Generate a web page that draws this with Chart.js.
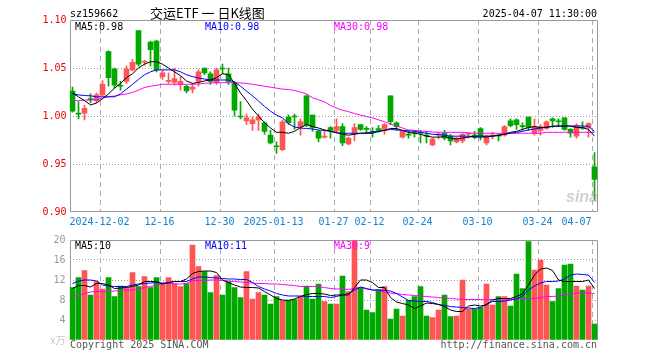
<!DOCTYPE html>
<html>
<head>
<meta charset="utf-8">
<script src="https://cdn.jsdelivr.net/npm/chart.js@4.4.1/dist/chart.umd.min.js"></script>
<style>
  html, body { margin: 0; padding: 0; background: #fff; }
  #wrap { position: relative; width: 660px; height: 360px; }
  #wrap canvas { position: absolute; left: 0; }
  #kline { top: 0; }
  #vol { top: 230px; }
</style>
</head>
<body>
<div id="wrap">
  <canvas id="kline" width="660" height="230"></canvas>
  <canvas id="vol" width="660" height="130"></canvas>
</div>
<script>
// 交易日
const dates = [
  '2024-11-25','2024-11-26','2024-11-27','2024-11-28','2024-11-29',
  '2024-12-02','2024-12-03','2024-12-04','2024-12-05','2024-12-06',
  '2024-12-09','2024-12-10','2024-12-11','2024-12-12','2024-12-13',
  '2024-12-16','2024-12-17','2024-12-18','2024-12-19','2024-12-20',
  '2024-12-23','2024-12-24','2024-12-25','2024-12-26','2024-12-27',
  '2024-12-30','2024-12-31','2025-01-02','2025-01-03',
  '2025-01-06','2025-01-07','2025-01-08','2025-01-09','2025-01-10',
  '2025-01-13','2025-01-14','2025-01-15','2025-01-16','2025-01-17',
  '2025-01-20','2025-01-21','2025-01-22','2025-01-23','2025-01-24',
  '2025-01-27','2025-02-05','2025-02-06','2025-02-07',
  '2025-02-10','2025-02-11','2025-02-12','2025-02-13','2025-02-14',
  '2025-02-17','2025-02-18','2025-02-19','2025-02-20','2025-02-21',
  '2025-02-24','2025-02-25','2025-02-26','2025-02-27','2025-02-28',
  '2025-03-03','2025-03-04','2025-03-05','2025-03-06','2025-03-07',
  '2025-03-10','2025-03-11','2025-03-12','2025-03-13','2025-03-14',
  '2025-03-17','2025-03-18','2025-03-19','2025-03-20','2025-03-21',
  '2025-03-24','2025-03-25','2025-03-26','2025-03-27','2025-03-28',
  '2025-03-31','2025-04-01','2025-04-02','2025-04-03','2025-04-07'
];

// 坐标轴上显示的日期
const tickDates = ['2024-12-02','2024-12-16','2024-12-30','2025-01-13','2025-01-27',
  '2025-02-12','2025-02-24','2025-03-10','2025-03-24','2025-04-07'];
const tickLabels = ['2024-12-02','12-16','12-30','2025-01-13','01-27',
  '02-12','02-24','03-10','03-24','04-07'];

const openP = [1.026,1.003,1.003,1.018,1.016,1.022,1.067,1.049,1.032,1.036,
  1.048,1.089,1.056,1.077,1.078,1.041,1.036,1.035,1.033,1.031,
  1.028,1.036,1.050,1.044,1.035,1.050,1.044,1.034,1.000,0.995,
  0.992,0.996,0.993,0.980,0.969,0.965,0.999,1.000,0.989,1.021,
  1.001,0.984,0.978,0.988,0.985,0.989,0.971,0.982,0.991,0.987,
  0.984,0.987,0.986,1.021,0.993,0.978,0.981,0.983,0.983,0.980,
  0.970,0.980,0.982,0.979,0.973,0.974,0.981,0.980,0.987,0.972,
  0.979,0.980,0.980,0.995,0.996,0.990,0.999,0.982,0.985,0.987,
  0.997,0.995,0.998,0.986,0.979,0.988,0.988,0.947];
const highP = [1.030,1.015,1.011,1.023,1.024,1.037,1.068,1.050,1.036,1.052,
  1.059,1.089,1.058,1.078,1.079,1.048,1.045,1.050,1.041,1.032,
  1.034,1.048,1.050,1.046,1.050,1.054,1.050,1.036,1.015,1.002,
  0.999,1.002,0.994,0.985,0.973,0.996,1.001,1.002,0.997,1.022,
  1.001,0.985,0.985,0.989,0.997,0.992,0.978,0.992,0.991,0.989,
  0.988,0.990,0.992,1.021,0.994,0.985,0.985,0.985,0.985,0.984,
  0.977,0.983,0.985,0.981,0.978,0.982,0.983,0.984,0.988,0.980,
  0.983,0.981,0.990,0.997,0.997,0.993,0.999,0.997,0.991,0.995,
  0.998,0.997,0.998,0.987,0.992,0.994,0.993,0.962];
const lowP = [1.004,0.997,0.996,1.014,1.014,1.021,1.031,1.029,1.027,1.034,
  1.047,1.052,1.053,1.052,1.046,1.038,1.034,1.032,1.027,1.024,
  1.024,1.031,1.043,1.033,1.033,1.044,1.033,1.000,0.997,0.991,
  0.985,0.985,0.981,0.971,0.961,0.964,0.991,0.986,0.980,0.989,
  0.984,0.973,0.977,0.977,0.983,0.969,0.970,0.974,0.985,0.982,
  0.978,0.983,0.981,0.991,0.985,0.977,0.977,0.978,0.972,0.972,
  0.969,0.976,0.975,0.970,0.972,0.972,0.977,0.976,0.975,0.970,
  0.976,0.974,0.979,0.989,0.986,0.985,0.985,0.980,0.980,0.986,
  0.988,0.989,0.985,0.978,0.977,0.986,0.978,0.912];
const closeP = [1.005,1.002,1.008,1.017,1.022,1.033,1.040,1.032,1.031,1.049,
  1.056,1.054,1.057,1.069,1.048,1.045,1.037,1.039,1.036,1.026,
  1.030,1.046,1.045,1.036,1.048,1.049,1.036,1.006,0.999,0.998,
  0.996,0.999,0.984,0.972,0.968,0.994,0.993,0.999,0.994,0.991,
  0.988,0.977,0.979,0.985,0.989,0.972,0.977,0.988,0.986,0.986,
  0.983,0.985,0.991,0.994,0.989,0.984,0.980,0.982,0.982,0.979,
  0.976,0.981,0.977,0.974,0.977,0.981,0.982,0.978,0.979,0.979,
  0.980,0.979,0.989,0.990,0.991,0.989,0.988,0.989,0.989,0.994,
  0.995,0.994,0.986,0.982,0.990,0.987,0.992,0.934];

// 均线
const ma5 = [1.024,1.020,1.016,1.0115,1.0135,1.018,1.023,1.029,1.034,1.040,
  1.044,1.050,1.054,1.0565,1.0565,1.054,1.050,1.046,1.042,1.0365,
  1.034,1.035,1.0365,1.0375,1.040,1.044,1.043,1.034,1.024,1.016,
  1.007,1.000,0.993,0.9875,0.983,0.983,0.982,0.984,0.988,0.991,
  0.989,0.9875,0.9855,0.984,0.983,0.981,0.980,0.981,0.982,0.982,
  0.982,0.984,0.985,0.987,0.987,0.985,0.983,0.982,0.981,0.979,
  0.978,0.978,0.9785,0.977,0.976,0.977,0.978,0.979,0.979,0.979,
  0.979,0.980,0.981,0.983,0.984,0.986,0.988,0.989,0.988,0.988,
  0.9895,0.9895,0.9895,0.9895,0.988,0.988,0.986,0.979];
const ma10 = [1.023,1.022,1.0213,1.021,1.020,1.020,1.020,1.020,1.023,1.028,
  1.033,1.038,1.043,1.046,1.048,1.048,1.048,1.048,1.046,1.043,
  1.041,1.0396,1.0385,1.0375,1.0375,1.0375,1.0375,1.0354,1.031,1.026,
  1.021,1.0156,1.010,1.005,1.001,0.998,0.992,0.9885,0.9875,0.987,
  0.9865,0.9854,0.985,0.984,0.9823,0.982,0.982,0.982,0.982,0.9823,
  0.9834,0.984,0.985,0.986,0.9855,0.985,0.9845,0.984,0.983,0.982,
  0.981,0.9806,0.980,0.979,0.979,0.979,0.979,0.978,0.978,0.978,
  0.979,0.980,0.981,0.982,0.983,0.984,0.9855,0.9865,0.9875,0.9885,
  0.989,0.9896,0.9896,0.9896,0.9896,0.9896,0.989,0.984];
const ma30 = [1.016,1.016,1.0165,1.0167,1.0167,1.0188,1.020,1.0208,1.022,1.023,
  1.0245,1.027,1.0297,1.031,1.032,1.033,1.033,1.033,1.033,1.033,
  1.033,1.0333,1.034,1.0344,1.0347,1.0347,1.0347,1.0347,1.0344,1.034,
  1.033,1.032,1.031,1.030,1.029,1.028,1.0276,1.0266,1.025,1.023,
  1.019,1.017,1.0146,1.011,1.0083,1.006,1.0045,1.0026,1.001,0.9995,
  0.998,0.996,0.994,0.9917,0.9896,0.9875,0.9854,0.985,0.9844,0.984,
  0.9833,0.983,0.983,0.983,0.983,0.983,0.9823,0.982,0.982,0.982,
  0.982,0.982,0.982,0.982,0.982,0.982,0.982,0.982,0.982,0.983,
  0.983,0.983,0.983,0.983,0.983,0.983,0.983,0.983];

// 成交量（万）
const volume = [10.5,12.5,13.9,9.0,11.7,10.2,12.5,8.7,10.8,10.5,
  13.5,10.7,12.7,10.5,12.5,11.3,12.5,11.3,10.7,11.3,
  19.0,14.7,13.7,9.5,12.9,9.0,11.7,10.5,8.5,13.7,
  8.2,9.5,9.0,7.2,8.7,7.9,8.0,8.1,8.7,10.8,
  8.2,11.2,7.7,7.2,7.2,12.8,9.7,20.0,10.5,6.0,
  5.5,10.1,10.7,4.2,6.2,4.8,8.0,8.7,10.7,4.8,
  4.5,6.0,9.0,4.7,4.8,12.0,6.2,6.2,6.5,11.2,
  7.0,8.7,8.7,6.8,13.2,10.3,19.7,14.0,16.0,11.0,
  7.7,10.3,15.0,15.2,10.8,10.0,10.8,3.2];
const vma5 = [10.3,10.9,10.9,10.6,11.3,11.3,11.0,10.3,10.4,10.5,
  10.7,11.0,11.7,11.7,11.7,11.2,11.5,11.7,11.7,12.2,
  13.3,13.7,13.8,13.8,13.5,12.0,11.5,11.0,10.6,10.5,
  10.5,10.4,9.7,9.0,8.3,8.0,7.9,8.2,8.7,9.1,
  9.3,9.3,9.2,8.9,9.0,9.0,9.0,10.5,12.0,12.0,
  11.5,10.5,10.5,8.5,7.6,7.3,7.0,6.3,6.8,7.4,
  7.3,7.1,6.7,6.0,5.7,5.7,6.8,7.0,6.8,7.0,
  8.0,8.3,8.3,8.3,8.7,9.2,11.0,13.0,14.2,14.4,
  13.9,12.0,11.7,11.7,11.7,11.7,12.0,10.3];
const vma10 = [11.3,11.8,12.0,12.0,11.8,11.0,10.8,10.7,10.7,10.7,
  11.0,11.2,11.3,11.4,11.5,11.4,11.4,11.7,11.7,11.7,
  12.2,12.6,12.6,12.5,12.4,12.3,12.2,12.2,12.1,12.1,
  11.5,10.7,10.2,9.8,9.3,9.0,8.8,8.8,8.8,8.7,
  8.7,8.7,8.7,8.5,8.7,9.0,9.3,10.0,10.6,10.3,
  10.0,10.0,9.9,9.8,9.3,8.6,7.9,7.8,7.7,7.7,
  7.5,7.1,6.9,6.7,6.6,6.5,6.4,6.3,6.5,7.2,
  7.7,7.7,7.8,8.0,8.2,8.8,10.0,10.8,11.4,11.7,
  11.7,11.8,12.2,13.0,13.2,13.1,13.0,11.5];
const vma30 = [8.7,8.9,9.3,9.6,9.7,9.7,9.7,9.8,9.9,10.0,
  10.0,10.2,10.5,10.7,10.9,11.3,11.3,11.2,11.2,11.3,
  11.9,11.9,11.9,12.0,12.0,11.9,11.8,11.7,11.6,11.5,
  11.4,11.3,11.3,11.2,11.2,11.1,11.0,10.9,10.7,10.7,
  10.7,10.7,10.5,10.3,10.2,10.2,10.1,10.3,10.5,10.2,
  10.0,9.8,9.6,9.4,9.3,9.1,9.0,8.9,8.8,8.7,
  8.6,8.5,8.4,8.3,8.2,8.1,8.1,8.1,8.1,8.1,
  8.1,8.0,8.0,8.1,8.3,8.3,8.3,8.3,8.5,8.7,
  8.7,8.8,9.0,9.2,9.4,9.5,9.4,9.3];

const RED = '#ff5555';
const GREEN = '#00a800';
const MONO = '"DejaVu Sans Mono", "Liberation Mono", monospace';

const candleColors = openP.map((o, i) => closeP[i] > o ? RED : GREEN);
const bodies = openP.map((o, i) => [Math.min(o, closeP[i]), Math.max(o, closeP[i])]);
const wicks = lowP.map((l, i) => [l, highP[i]]);
const tickIdx = tickDates.map(d => dates.indexOf(d));

/**
 * 边框、日期竖线和文字
 */
const decorPlugin = {
  id: 'decor',
  beforeDatasetsDraw(chart, args, opts) {
    const { ctx, chartArea: a, scales: { x } } = chart;
    const half = (x.getPixelForValue(1) - x.getPixelForValue(0)) / 2;
    ctx.save();
    ctx.lineWidth = 1;
    // 日期分隔虚线
    ctx.strokeStyle = '#aaa';
    ctx.setLineDash([5, 4]);
    tickIdx.forEach(i => {
      const px = Math.round(x.getPixelForValue(i) - half) + 0.5;
      ctx.beginPath();
      ctx.moveTo(px, a.top);
      ctx.lineTo(px, a.bottom);
      ctx.stroke();
    });
    // 边框
    ctx.setLineDash([]);
    ctx.strokeStyle = '#999';
    const l = Math.round(a.left) + 0.5, r = Math.round(a.right) - 0.5;
    const t = Math.round(a.top) + 0.5, b = Math.round(a.bottom) - 0.5;
    const bEnd = opts.bottom ? b : Math.round(a.bottom);
    ctx.beginPath();
    ctx.moveTo(l, bEnd);
    ctx.lineTo(l, t);
    ctx.lineTo(r, t);
    ctx.lineTo(r, bEnd);
    if (opts.bottom) ctx.lineTo(l, b);
    ctx.stroke();
    ctx.restore();
  },
  afterDraw(chart, args, opts) {
    const ctx = chart.ctx;
    ctx.save();
    (opts.texts || []).forEach(t => {
      ctx.font = t.font || ('10px ' + MONO);
      ctx.fillStyle = t.color || '#000';
      ctx.textAlign = t.align || 'left';
      ctx.textBaseline = 'alphabetic';
      ctx.fillText(t.text, t.x, t.y);
    });
    ctx.restore();
  }
};

const lineSet = (label, data, color) => ({
  type: 'line', label, data, borderColor: color, borderWidth: 1,
  pointRadius: 0, tension: 0, order: 0
});

const isZeroTick = c => !!(c && c.tick && c.tick.value === 0);

// K线图
new Chart(document.getElementById('kline'), {
  type: 'bar',
  data: {
    labels: dates,
    datasets: [
      lineSet('MA5', ma5, '#000000'),
      lineSet('MA10', ma10, '#0000ff'),
      lineSet('MA30', ma30, '#ff00ff'),
      { label: 'body', data: bodies, backgroundColor: candleColors, barThickness: 5,
        minBarLength: 1, grouped: false, order: 1 },
      { label: 'wick', data: wicks, backgroundColor: candleColors, barThickness: 1,
        grouped: false, order: 2 }
    ]
  },
  options: {
    responsive: false,
    animation: false,
    devicePixelRatio: 1,
    layout: { padding: { left: 0, right: 62.5, top: 20, bottom: 0 } },
    plugins: {
      legend: { display: false },
      tooltip: { enabled: false },
      decor: {
        bottom: true,
        texts: [
          { text: 'sz159662', x: 70, y: 17 },
          { text: '交运ETF 一 日K线图', x: 150, y: 18, font: '13px "Noto Sans CJK SC"' },
          { text: '2025-04-07 11:30:00', x: 597, y: 17, align: 'right' },
          { text: 'MA5:0.98', x: 75, y: 30 },
          { text: 'MA10:0.98', x: 205, y: 30, color: '#0000ff' },
          { text: 'MA30:0.98', x: 334, y: 30, color: '#ff00ff' },
          { text: 'sina', x: 566, y: 202, color: 'rgba(170,170,170,0.55)',
            font: 'italic bold 16px "Liberation Sans"' }
        ]
      }
    },
    scales: {
      x: {
        offset: true,
        grid: { display: false, drawTicks: false },
        border: { display: false },
        ticks: {
          autoSkip: false, maxRotation: 0, align: 'inner', labelOffset: -3, padding: 4,
          color: '#1580d0', font: { family: MONO, size: 10 },
          callback: (v, i) => {
            const k = tickIdx.indexOf(i);
            return k >= 0 ? tickLabels[k] : '';
          }
        },
        afterFit: s => { s.height = 18; }
      },
      y: {
        min: 0.9, max: 1.1,
        border: { display: false, dash: [1, 2] },
        grid: {
          drawTicks: false,
          color: c => (c.tick && c.tick.value > 0.91 && c.tick.value < 1.09) ? '#999' : 'transparent'
        },
        ticks: {
          stepSize: 0.05, padding: 3, color: '#ee0000',
          font: { family: MONO, size: 10 },
          callback: v => Number(v).toFixed(2)
        },
        afterFit: s => { s.width = 69.5; }
      }
    }
  },
  plugins: [decorPlugin]
});

// 成交量图
new Chart(document.getElementById('vol'), {
  type: 'bar',
  data: {
    labels: dates,
    datasets: [
      lineSet('MA5', vma5, '#000000'),
      lineSet('MA10', vma10, '#0000ff'),
      lineSet('MA30', vma30, '#ff00ff'),
      { label: 'volume', data: volume, backgroundColor: candleColors, barThickness: 5,
        grouped: false, order: 1 }
    ]
  },
  options: {
    responsive: false,
    animation: false,
    devicePixelRatio: 1,
    layout: { padding: { left: 0, right: 62.5, top: 10, bottom: 0 } },
    plugins: {
      legend: { display: false },
      tooltip: { enabled: false },
      decor: {
        bottom: false,
        texts: [
          { text: 'MA5:10', x: 75, y: 19 },
          { text: 'MA10:11', x: 205, y: 19, color: '#0000ff' },
          { text: 'MA30:9', x: 334, y: 19, color: '#ff00ff' },
          { text: 'Copyright 2025 SINA.COM', x: 70, y: 118, color: '#555' },
          { text: 'http://finance.sina.com.cn', x: 597, y: 118, color: '#555', align: 'right' }
        ]
      }
    },
    scales: {
      x: {
        offset: true,
        grid: { display: false, drawTicks: false },
        border: { display: false },
        ticks: { display: false, autoSkip: false },
        afterFit: s => { s.height = 20; }
      },
      y: {
        min: 0, max: 20,
        border: { display: false, dash: [1, 2] },
        grid: {
          drawTicks: false,
          color: c => (c.tick && c.tick.value > 0 && c.tick.value < 20) ? '#999' : 'transparent'
        },
        ticks: {
          stepSize: 4, padding: 4,
          color: c => isZeroTick(c) ? '#c8c8c8' : '#999',
          font: c => isZeroTick(c)
            ? { family: '"Noto Sans CJK SC"', size: 10 }
            : { family: MONO, size: 10 },
          callback: v => v === 0 ? 'x万' : v
        },
        afterFit: s => { s.width = 69.5; }
      }
    }
  },
  plugins: [decorPlugin]
});
</script>
</body>
</html>
